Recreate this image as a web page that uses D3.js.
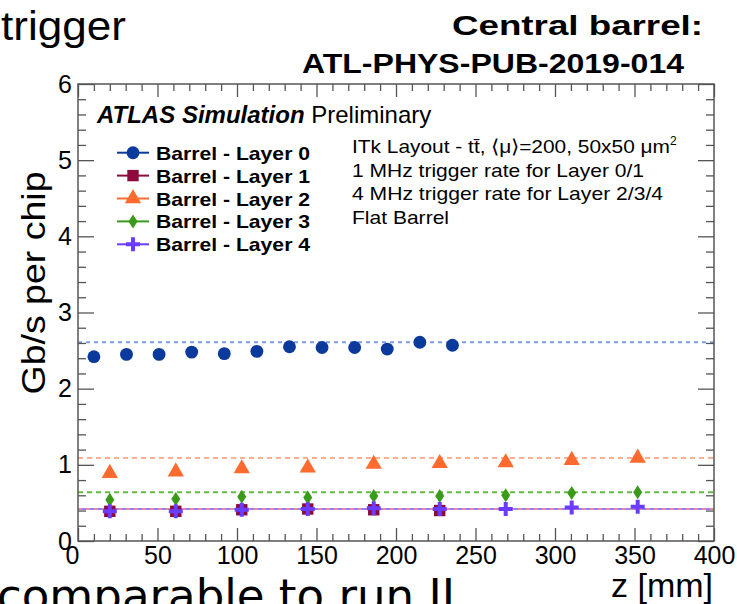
<!DOCTYPE html>
<html><head><meta charset="utf-8">
<script src="https://cdn.jsdelivr.net/npm/d3@7"></script>
<style>body{margin:0;background:#fff;} svg{display:block;}</style>
</head><body>
<script>
// ---- data ----
const zLayer0 = [10, 30.5, 51, 71.5, 92, 112.5, 133, 153.5, 174, 194.5, 215, 235.5];
const valLayer0 = [2.42, 2.45, 2.45, 2.48, 2.46, 2.49, 2.55, 2.54, 2.54, 2.52, 2.61, 2.57];
const zLayer1 = [20, 61.5, 103, 144.5, 186, 227.5];
const valLayer1 = [0.39, 0.39, 0.41, 0.42, 0.41, 0.40];
const zOuter = [20, 61.5, 103, 144.5, 186, 227.5, 269, 310.5, 352];
const valLayer2 = [0.89, 0.91, 0.95, 0.96, 1.01, 1.02, 1.03, 1.06, 1.09];
const valLayer3 = [0.54, 0.55, 0.58, 0.57, 0.59, 0.59, 0.60, 0.63, 0.64];
const valLayer4 = [0.39, 0.39, 0.41, 0.42, 0.43, 0.42, 0.42, 0.44, 0.45];
const refLines = [2.61, 0.42, 1.09, 0.64, 0.42];
const legendLabels = ["Barrel - Layer 0", "Barrel - Layer 1", "Barrel - Layer 2", "Barrel - Layer 3", "Barrel - Layer 4"];
const xTicks = [0, 50, 100, 150, 200, 250, 300, 350, 400];
const yTicks = [0, 1, 2, 3, 4, 5, 6];
const notes = ["ITk Layout - t", "1 MHz trigger rate for Layer 0/1", "4 MHz trigger rate for Layer 2/3/4", "Flat Barrel"];

const colors = ["#0a3a9c", "#8c0a3c", "#ff6a2e", "#3a9a1a", "#6a3cff"];
const lineColors = ["#7f9ee0", "#e08aa8", "#ffae90", "#66bb44", "#9a7cff"];

const W = 737, H = 604;
const svg = d3.select("body").append("svg").attr("width", W).attr("height", H);
const font = "'Liberation Sans', Arial, Helvetica, sans-serif";

const x = d3.scaleLinear().domain([0, 400]).range([78, 714]);
const y = d3.scaleLinear().domain([0, 6]).range([541, 84]);

// slide texts
svg.append("text").attr("x", 1).attr("y", 40).attr("font-family", font).attr("font-size", 40)
  .attr("textLength", 125).attr("lengthAdjust", "spacingAndGlyphs").text("trigger");
svg.append("text").attr("x", 452).attr("y", 35).attr("font-family", font).attr("font-size", 27).attr("font-weight", "bold")
  .attr("textLength", 251).attr("lengthAdjust", "spacingAndGlyphs").text("Central barrel:");
svg.append("text").attr("x", 302).attr("y", 73).attr("font-family", font).attr("font-size", 27).attr("font-weight", "bold")
  .attr("textLength", 382).attr("lengthAdjust", "spacingAndGlyphs").text("ATL-PHYS-PUB-2019-014");
svg.append("text").attr("x", -3).attr("y", 611).attr("font-family", "'DejaVu Sans', sans-serif").attr("font-size", 44)
  .attr("textLength", 458).attr("lengthAdjust", "spacingAndGlyphs").text("comparable to run II");

// reference dashed lines
const dashes = ["4,4", "4,4", "5,4", "5,4", "4,4"];
refLines.forEach((v, i) => {
  svg.append("line").attr("x1", x(0)).attr("x2", x(400)).attr("y1", y(v)).attr("y2", y(v))
    .attr("stroke", lineColors[i]).attr("stroke-width", 2).attr("stroke-dasharray", dashes[i])
    .attr("stroke-dashoffset", i === 4 ? 4 : 0);
});

// axes
const g = svg.append("g");
function minorRange(a, b, s) { const r = []; for (let v = a; v <= b + 1e-9; v += s) r.push(+v.toFixed(4)); return r; }
const xMinor = minorRange(0, 400, 10).filter(v => v % 50 !== 0);
const yMinor = minorRange(0, 6, 0.2).filter(v => Math.abs(v - Math.round(v)) > 1e-6);

function styleAxis(sel) {
  sel.select(".domain").remove();
  sel.selectAll(".tick line").attr("stroke", "#555").attr("stroke-width", 1.3);
  sel.selectAll("text").attr("font-family", font).attr("font-size", 25).attr("fill", "#000");
}
// bottom
g.append("g").attr("transform", `translate(0,${y(0)})`)
  .call(d3.axisBottom(x).tickValues(xTicks).tickSizeInner(-13).tickSizeOuter(0).tickPadding(5).tickFormat(d3.format("d")))
  .call(styleAxis);
g.append("g").attr("transform", `translate(0,${y(0)})`)
  .call(d3.axisBottom(x).tickValues(xMinor).tickSize(-7).tickFormat(""))
  .call(styleAxis);
// top
g.append("g").attr("transform", `translate(0,${y(6)})`)
  .call(d3.axisTop(x).tickValues(xTicks).tickSize(-13).tickFormat("")).call(styleAxis);
g.append("g").attr("transform", `translate(0,${y(6)})`)
  .call(d3.axisTop(x).tickValues(xMinor).tickSize(-7).tickFormat("")).call(styleAxis);
// left
g.append("g").attr("transform", `translate(${x(0)},0)`)
  .call(d3.axisLeft(y).tickValues(yTicks).tickSizeInner(-16).tickSizeOuter(0).tickPadding(6).tickFormat(d3.format("d")))
  .call(styleAxis);
g.append("g").attr("transform", `translate(${x(0)},0)`)
  .call(d3.axisLeft(y).tickValues(yMinor).tickSize(-8).tickFormat("")).call(styleAxis);
// right
g.append("g").attr("transform", `translate(${x(400)},0)`)
  .call(d3.axisRight(y).tickValues(yTicks).tickSize(-16).tickFormat("")).call(styleAxis);
g.append("g").attr("transform", `translate(${x(400)},0)`)
  .call(d3.axisRight(y).tickValues(yMinor).tickSize(-8).tickFormat("")).call(styleAxis);
// shift the x "0" label slightly left like the reference
g.selectAll("text").filter(function(){ return this.textContent === "0" && this.parentNode.parentNode.getAttribute("transform").startsWith("translate(0,"); })
  .attr("dx", -6);
// frame
svg.append("rect").attr("x", x(0)).attr("y", y(6)).attr("width", x(400) - x(0)).attr("height", y(0) - y(6))
  .attr("fill", "none").attr("stroke", "#555").attr("stroke-width", 1.5);

// axis titles
svg.append("text").attr("transform", `translate(45,${283}) rotate(-90)`).attr("text-anchor", "middle")
  .attr("font-family", font).attr("font-size", 34).attr("textLength", 223).attr("lengthAdjust", "spacingAndGlyphs")
  .text("Gb/s per chip");
svg.append("text").attr("x", 713).attr("y", 597).attr("text-anchor", "end")
  .attr("font-family", font).attr("font-size", 34).text("z [mm]");

// markers
const sym = [
  d3.symbol().type(d3.symbolCircle).size(130),
  d3.symbol().type(d3.symbolSquare).size(130),
  d3.symbol().type(d3.symbolTriangle).size(115),
  null,
  null
];
const diamondPath = "M0,-7 L4.5,0 L0,7 L-4.5,0 Z";
const crossPath = "M-2,-7 H2 V-2 H7 V2 H2 V7 H-2 V2 H-7 V-2 H-2 Z";
function marker(sel, i) {
  if (i === 3) return sel.append("path").attr("d", diamondPath).attr("fill", colors[i]);
  if (i === 4) return sel.append("path").attr("d", crossPath).attr("fill", colors[i]);
  return sel.append("path").attr("d", sym[i]()).attr("fill", colors[i]);
}
const series = [
  {z: zLayer0, v: valLayer0},
  {z: zLayer1, v: valLayer1},
  {z: zOuter, v: valLayer2},
  {z: zOuter, v: valLayer3},
  {z: zOuter, v: valLayer4}
];
series.forEach((s, i) => {
  s.z.forEach((zz, j) => {
    const m = svg.append("g").attr("transform", `translate(${x(zz)},${y(s.v[j])})`);
    marker(m, i);
  });
});

// ATLAS label
const at = svg.append("text").attr("x", 97).attr("y", 123).attr("font-family", font).attr("font-size", 24);
at.append("tspan").attr("font-weight", "bold").attr("font-style", "italic").text("ATLAS Simulation");
at.append("tspan").text(" Preliminary");

// legend
legendLabels.forEach((lab, i) => {
  const cy = 152.7 + i * 22.9;
  svg.append("line").attr("x1", 117).attr("x2", 149).attr("y1", cy).attr("y2", cy)
    .attr("stroke", colors[i]).attr("stroke-width", 2);
  const m = svg.append("g").attr("transform", `translate(133,${cy})`);
  marker(m, i);
  svg.append("text").attr("x", 156).attr("y", cy + 7).attr("font-family", font).attr("font-size", 19)
    .attr("font-weight", "bold").attr("textLength", 154).attr("lengthAdjust", "spacingAndGlyphs").text(lab);
});

// annotation
const noteY = [153, 177, 200, 224];
const noteW = [null, 292, 311, 97];
notes.forEach((t, i) => {
  const tx = svg.append("text").attr("x", 352).attr("y", noteY[i]).attr("font-family", font).attr("font-size", 18.5);
  if (i === 0) {
    tx.append("tspan").attr("textLength", 318).attr("lengthAdjust", "spacingAndGlyphs")
      .text("ITk Layout - tt\u0304, \u27E8\u03BC\u27E9=200, 50x50 \u03BCm");
    tx.append("tspan").attr("font-size", 12).attr("dy", -8).text("2");
  } else {
    tx.attr("textLength", noteW[i]).attr("lengthAdjust", "spacingAndGlyphs").text(t);
  }
});
</script>
</body></html>
